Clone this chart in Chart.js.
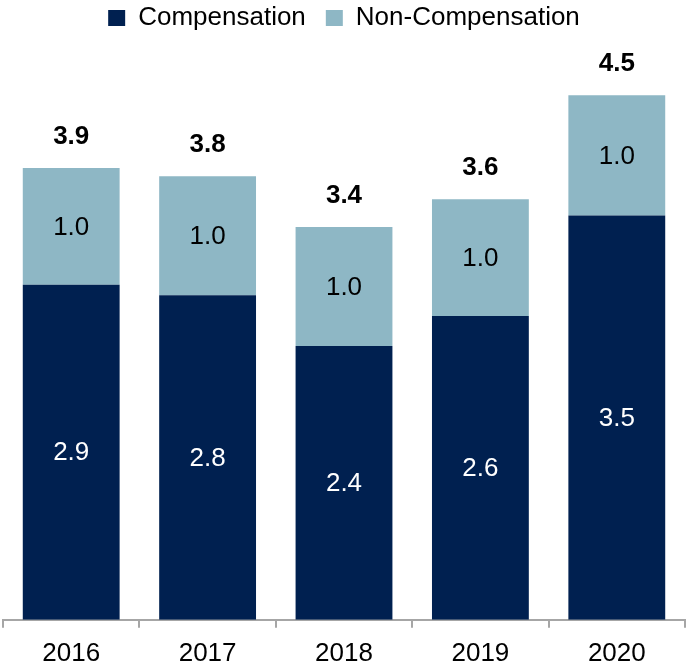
<!DOCTYPE html>
<html>
<head>
<meta charset="utf-8">
<script src="https://cdn.jsdelivr.net/npm/chart.js@4/dist/chart.umd.min.js"></script>
<style>
  html, body { margin: 0; padding: 0; background: #ffffff; }
  #wrap { width: 687px; height: 667px; position: relative; }
</style>
</head>
<body>
<div id="wrap"><canvas id="c"></canvas></div>
<script>
const categories = ["2016", "2017", "2018", "2019", "2020"];
const compensation = [2.90, 2.81, 2.37, 2.63, 3.50];
const nonCompensation = [1.01, 1.03, 1.03, 1.01, 1.04];
const seriesNames = ["Compensation", "Non-Compensation"];

const FONT = "'Liberation Sans', Arial, sans-serif";

const labelPlugin = {
  id: 'barLabels',
  afterDatasetsDraw(chart) {
    const ctx = chart.ctx;
    ctx.save();
    ctx.textAlign = 'center';
    ctx.textBaseline = 'middle';
    const colors = ['#ffffff', '#000000'];
    chart.data.datasets.forEach((ds, di) => {
      const meta = chart.getDatasetMeta(di);
      meta.data.forEach((bar, i) => {
        const v = ds.data[i];
        ctx.font = '26px ' + FONT;
        ctx.fillStyle = colors[di];
        ctx.fillText(v.toFixed(1), bar.x, (bar.y + bar.base) / 2 + 1);
      });
    });
    const topMeta = chart.getDatasetMeta(chart.data.datasets.length - 1);
    topMeta.data.forEach((bar, i) => {
      const total = chart.data.datasets.reduce((s, ds) => s + ds.data[i], 0);
      ctx.font = 'bold 26px ' + FONT;
      ctx.fillStyle = '#000000';
      ctx.fillText(total.toFixed(1), bar.x, bar.y - 31);
    });
    ctx.restore();
  }
};

new Chart(document.getElementById('c'), {
  type: 'bar',
  data: {
    labels: categories,
    datasets: [
      { label: seriesNames[0], data: compensation, backgroundColor: '#002050', borderWidth: 0 },
      { label: seriesNames[1], data: nonCompensation, backgroundColor: '#8eb7c5', borderWidth: 0 }
    ]
  },
  options: {
    responsive: true,
    maintainAspectRatio: false,
    animation: false,
    layout: { padding: { top: -15, left: 3, right: 2, bottom: -12 } },
    datasets: { bar: { categoryPercentage: 0.71, barPercentage: 1.0 } },
    plugins: {
      legend: {
        display: true,
        position: 'top',
        labels: {
          boxWidth: 17,
          boxHeight: 16,
          padding: 20,
          color: '#000000',
          font: { family: FONT, size: 26 }
        }
      },
      tooltip: { enabled: false }
    },
    scales: {
      x: {
        stacked: true,
        grid: {
          display: true,
          offset: true,
          drawOnChartArea: false,
          drawTicks: true,
          tickLength: 8,
          color: '#a6a6a6',
          lineWidth: 2
        },
        border: { display: true, color: '#a6a6a6', width: 2 },
        ticks: {
          color: '#000000',
          padding: 10,
          font: { family: FONT, size: 26 }
        }
      },
      y: {
        stacked: true,
        display: false,
        min: 0,
        max: 5.01
      }
    }
  },
  plugins: [labelPlugin]
});
</script>
</body>
</html>
